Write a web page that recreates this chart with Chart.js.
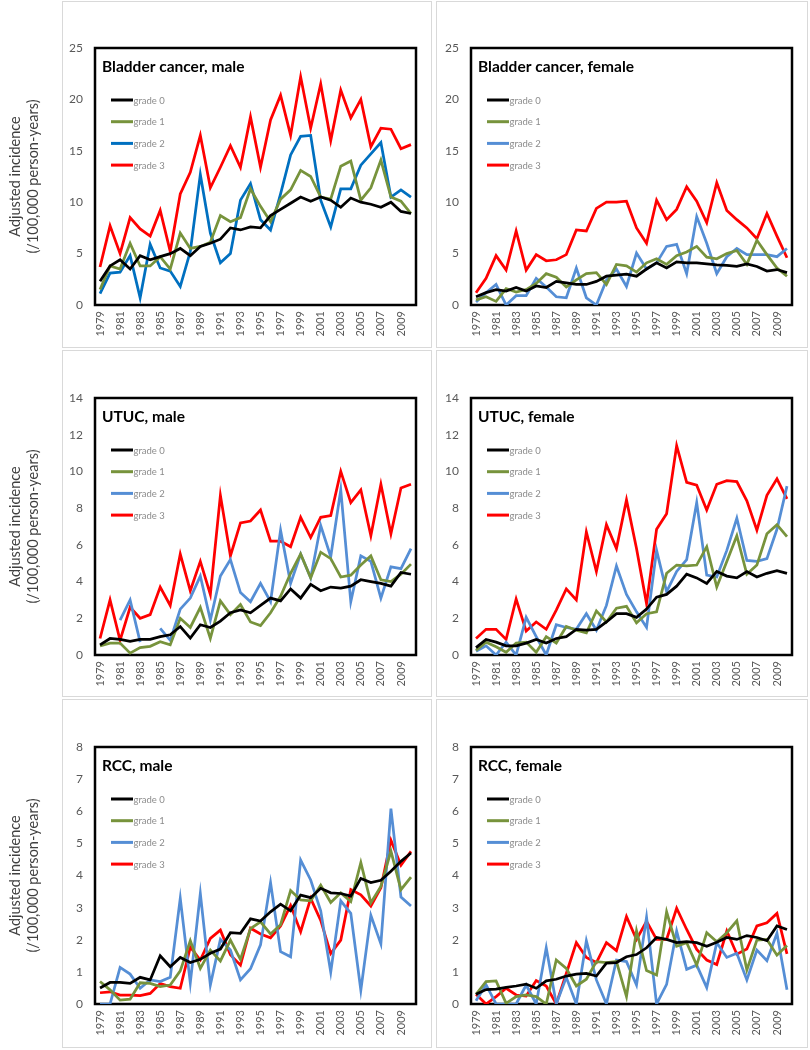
<!DOCTYPE html>
<html>
<head>
<meta charset="utf-8">
<script src="https://cdn.jsdelivr.net/npm/chart.js@4.4.3/dist/chart.umd.min.js"></script>
<style>
  body { margin: 0; background: #fff; width: 810px; height: 1050px; position: relative; overflow: hidden; }
  .panel { position: absolute; }
  .cell { position: absolute; border: 1px solid #d9d9d9; box-sizing: border-box; pointer-events: none; }
</style>
</head>
<body>
<script>
// ─────────────────────────────────────────────────────────────
// Data (adjusted incidence /100,000 person-years, 1979–2010)
// ─────────────────────────────────────────────────────────────

const years = ['1979', '1980', '1981', '1982', '1983', '1984', '1985', '1986', '1987', '1988',
  '1989', '1990', '1991', '1992', '1993', '1994', '1995', '1996', '1997', '1998',
  '1999', '2000', '2001', '2002', '2003', '2004', '2005', '2006', '2007', '2008',
  '2009', '2010'];

const gradeLabels = ['grade 0', 'grade 1', 'grade 2', 'grade 3'];

const bladderMaleG0 = [2.3, 3.8, 4.4, 3.5, 4.8, 4.4, 4.7, 5.0, 5.5, 4.8, 5.7, 6.0, 6.4, 7.5, 7.3, 7.6, 7.5, 8.7, 9.3, 9.9, 10.5, 10.1, 10.5, 10.2, 9.5, 10.4, 10.0, 9.8, 9.5, 10.0, 9.1, 8.9];
const bladderMaleG1 = [1.5, 3.8, 3.5, 6.0, 3.8, 3.8, 4.7, 3.5, 7.0, 5.5, 5.7, 6.1, 8.7, 8.1, 8.5, 11.3, 9.6, 8.1, 10.3, 11.2, 13.1, 12.5, 10.5, 10.3, 13.5, 14.0, 10.2, 11.4, 14.1, 10.5, 10.1, 8.9];
const bladderMaleG2 = [1.1, 3.1, 3.2, 4.8, 0.7, 5.9, 3.6, 3.3, 1.8, 5.2, 12.7, 7.0, 4.1, 5.0, 10.2, 11.8, 8.3, 7.3, 10.8, 14.6, 16.4, 16.5, 10.2, 7.6, 11.3, 11.3, 13.6, 14.7, 15.8, 10.5, 11.2, 10.5];
const bladderMaleG3 = [3.7, 7.7, 5.0, 8.5, 7.4, 6.7, 9.2, 5.2, 10.8, 12.9, 16.5, 11.4, 13.4, 15.5, 13.4, 18.3, 13.4, 18.0, 20.4, 16.5, 22.2, 17.2, 21.5, 16.0, 20.9, 18.2, 20.0, 15.4, 17.2, 17.1, 15.2, 15.6];

const bladderFemaleG0 = [0.8, 1.2, 1.5, 1.35, 1.7, 1.35, 1.85, 1.7, 2.3, 2.15, 2.0, 2.0, 2.3, 2.8, 2.9, 3.0, 2.8, 3.5, 4.1, 3.6, 4.2, 4.1, 4.1, 4.0, 3.9, 3.85, 3.75, 4.0, 3.75, 3.3, 3.45, 3.15];
const bladderFemaleG1 = [0.5, 0.8, 0.35, 1.6, 1.25, 1.5, 2.1, 3.05, 2.7, 1.75, 2.45, 3.05, 3.15, 2.0, 3.95, 3.8, 3.2, 4.1, 4.5, 3.95, 4.8, 5.15, 5.7, 4.65, 4.5, 5.0, 5.3, 3.95, 6.3, 4.9, 3.6, 2.8];
const bladderFemaleG2 = [0.3, 1.2, 2.0, 0.0, 0.9, 0.9, 2.6, 1.75, 0.8, 0.7, 3.6, 0.7, 0.0, 2.4, 3.5, 1.8, 5.05, 3.5, 4.1, 5.7, 5.9, 3.05, 8.6, 6.0, 3.05, 4.7, 5.5, 4.9, 4.9, 4.9, 4.7, 5.5];
const bladderFemaleG3 = [1.2, 2.6, 4.8, 3.4, 7.2, 3.4, 4.9, 4.3, 4.4, 4.9, 7.3, 7.2, 9.4, 10.0, 10.0, 10.1, 7.5, 6.0, 10.2, 8.3, 9.3, 11.5, 10.1, 8.0, 11.9, 9.2, 8.3, 7.5, 6.45, 8.9, 6.7, 4.6];

const utucMaleG0 = [0.55, 0.9, 0.85, 0.75, 0.85, 0.85, 1.0, 1.1, 1.55, 0.92, 1.65, 1.5, 1.85, 2.3, 2.45, 2.3, 2.7, 3.1, 2.95, 3.6, 3.1, 3.85, 3.5, 3.7, 3.65, 3.75, 4.1, 4.0, 3.9, 3.75, 4.5, 4.4];
const utucMaleG1 = [0.5, 0.65, 0.65, 0.1, 0.4, 0.47, 0.72, 0.55, 2.0, 1.5, 2.6, 0.9, 2.95, 2.2, 2.75, 1.8, 1.6, 2.3, 3.2, 4.45, 5.5, 4.2, 5.6, 5.25, 4.25, 4.35, 4.9, 5.4, 4.1, 4.0, 4.4, 4.95];
const utucMaleG2 = [null, null, 1.9, 3.0, 0.7, null, 1.45, 0.8, 2.5, 3.1, 4.3, 1.9, 4.3, 5.2, 3.4, 2.9, 3.9, 2.9, 6.8, 3.9, 5.5, 4.2, 7.05, 5.35, 9.0, 2.9, 5.4, 5.1, 3.1, 4.8, 4.7, 5.8];
const utucMaleG3 = [0.9, 3.0, 0.8, 2.6, 2.0, 2.2, 3.7, 2.7, 5.5, 3.5, 5.1, 3.3, 8.7, 5.4, 7.2, 7.3, 7.9, 6.2, 6.2, 5.9, 7.5, 6.4, 7.5, 7.6, 10.0, 8.3, 9.0, 6.5, 9.3, 6.6, 9.1, 9.3];

const utucFemaleG0 = [0.4, 0.85, 0.7, 0.5, 0.5, 0.65, 0.85, 0.65, 0.9, 1.0, 1.4, 1.35, 1.4, 1.8, 2.25, 2.25, 2.05, 2.5, 3.15, 3.3, 3.75, 4.4, 4.2, 3.9, 4.55, 4.3, 4.2, 4.55, 4.25, 4.45, 4.6, 4.45];
const utucFemaleG1 = [0.25, 0.7, 0.45, 0.15, 0.65, 0.7, 0.15, 1.0, 0.65, 1.55, 1.35, 1.2, 2.4, 1.8, 2.55, 2.65, 1.75, 2.25, 2.35, 4.45, 4.9, 4.85, 4.9, 5.9, 3.7, 5.1, 6.5, 4.4, 4.9, 6.6, 7.1, 6.45];
const utucFemaleG2 = [0.2, 0.5, 0.0, 0.7, 0.0, 2.05, 1.0, 0.0, 1.65, 1.5, 1.4, 2.25, 1.35, 2.7, 4.85, 3.3, 2.35, 1.5, 5.7, 3.45, 4.55, 5.2, 8.3, 4.35, 4.25, 5.7, 7.45, 5.15, 5.1, 5.25, 6.85, 9.2];
const utucFemaleG3 = [0.9, 1.4, 1.4, 0.85, 3.05, 1.3, 1.8, 1.4, 2.45, 3.6, 3.0, 6.7, 4.55, 7.1, 5.8, 8.45, 5.8, 2.8, 6.85, 7.7, 11.4, 9.4, 9.25, 7.9, 9.3, 9.5, 9.45, 8.4, 6.8, 8.7, 9.6, 8.5];

const rccMaleG0 = [0.5, 0.67, 0.67, 0.64, 0.83, 0.75, 1.5, 1.16, 1.45, 1.29, 1.39, 1.58, 1.71, 2.22, 2.2, 2.65, 2.58, 2.87, 3.11, 2.9, 3.39, 3.31, 3.6, 3.46, 3.44, 3.36, 3.91, 3.78, 3.85, 4.13, 4.44, 4.7];
const rccMaleG1 = [0.7, 0.44, 0.12, 0.15, 0.66, 0.64, 0.54, 0.59, 1.03, 1.97, 1.11, 1.68, 1.34, 1.99, 1.39, 2.35, 2.56, 2.18, 2.47, 3.53, 3.24, 3.21, 3.7, 3.16, 3.46, 3.19, 4.4, 3.15, 3.66, 4.76, 3.56, 3.95];
const rccMaleG2 = [0.0, 0.0, 1.14, 0.93, 0.49, 0.75, 0.7, 0.83, 3.29, 0.66, 3.44, 0.59, 2.01, 1.68, 0.75, 1.1, 1.84, 3.78, 1.63, 1.47, 4.48, 3.86, 2.9, 0.99, 3.21, 2.82, 0.43, 2.76, 1.87, 6.08, 3.33, 3.05];
const rccMaleG3 = [0.35, 0.38, 0.28, 0.28, 0.26, 0.33, 0.64, 0.54, 0.49, 1.77, 1.37, 2.04, 2.3, 1.53, 1.21, 2.36, 2.18, 2.06, 2.43, 3.07, 2.25, 3.29, 2.6, 1.57, 1.99, 3.56, 3.4, 3.05, 3.62, 5.1, 4.32, 4.75];

const rccFemaleG0 = [0.3, 0.45, 0.46, 0.52, 0.56, 0.62, 0.49, 0.72, 0.77, 0.87, 0.93, 0.95, 0.87, 1.27, 1.29, 1.47, 1.54, 1.75, 2.07, 2.01, 1.91, 1.94, 1.91, 1.8, 1.92, 2.07, 2.01, 2.13, 2.07, 1.97, 2.43, 2.32];
const rccFemaleG1 = [0.3, 0.7, 0.72, 0.02, 0.23, 0.28, 0.23, 0.0, 1.37, 1.11, 0.56, 0.77, 1.32, 1.29, 1.32, 0.23, 2.28, 1.04, 0.9, 2.87, 1.8, 1.91, 1.21, 2.22, 1.94, 2.22, 2.59, 1.06, 1.99, 2.01, 1.52, 1.82];
const rccFemaleG2 = [0.1, 0.6, 0.0, 0.0, 0.0, 0.59, 0.0, 1.75, 0.0, 0.83, 0.0, 1.97, 0.75, 0.0, 1.37, 1.32, 0.59, 2.7, 0.0, 0.61, 2.27, 1.08, 1.21, 0.51, 1.91, 1.45, 1.58, 0.75, 1.68, 1.35, 2.2, 0.44];
const rccFemaleG3 = [0.3, 0.0, 0.23, 0.49, 0.28, 0.25, 0.73, 0.56, 0.0, 0.95, 1.91, 1.45, 1.29, 1.91, 1.66, 2.72, 2.01, 2.57, 2.01, 2.01, 2.98, 2.32, 1.7, 1.37, 1.23, 2.27, 1.55, 1.71, 2.43, 2.53, 2.82, 1.56];

// y-axis ranges per row
const bladderTicks = { max: 25, step: 5 };
const utucTicks    = { max: 14, step: 2 };
const rccTicks     = { max: 8,  step: 1 };

const yTitle = ['Adjusted incidence', '(/100,000 person-years)'];

// ─────────────────────────────────────────────────────────────
// Look & layout
// ─────────────────────────────────────────────────────────────

const BLACK = '#000000';
const GREEN = '#77933C';
const BLUE_DARK = '#0070C0';
const BLUE = '#558ED5';
const RED = '#FF0000';

const FONT = "Lato, 'Open Sans', sans-serif";
Chart.defaults.font.family = FONT;

const ROW_TOP = [0, 350, 699];
const COL = [
  { left: 0,   width: 432, yWidth: 95 },
  { left: 436, width: 372, yWidth: 35 },
];
const CANVAS_H = 348;

// plot frame, title and in-plot legend (Excel style)
const panelDecor = {
  id: 'panelDecor',
  beforeDatasetsDraw(chart) {
    const { ctx, chartArea: a } = chart;
    ctx.save();
    ctx.lineWidth = 2.5;
    ctx.strokeStyle = '#000';
    ctx.strokeRect(a.left, a.top, a.right - a.left, a.bottom - a.top);
    ctx.restore();
  },
  afterDatasetsDraw(chart, args, opts) {
    const { ctx, chartArea: a } = chart;
    ctx.save();
    ctx.textBaseline = 'middle';
    ctx.textAlign = 'left';
    ctx.fillStyle = '#000';
    ctx.font = `bold 15.5px ${FONT}`;
    ctx.fillText(opts.title, a.left + 7, a.top + 19);

    ctx.font = `9.5px ${FONT}`;
    chart.data.datasets.forEach((ds, i) => {
      const y = a.top + 52 + i * 21.7;
      ctx.strokeStyle = ds.borderColor;
      ctx.lineWidth = 3;
      ctx.beginPath();
      ctx.moveTo(a.left + 16, y);
      ctx.lineTo(a.left + 38, y);
      ctx.stroke();
      ctx.fillStyle = '#8c8c8c';
      ctx.fillText(ds.label, a.left + 38.5, y + 0.5);
    });
    ctx.restore();
  },
};

function makePanel({ title, series, blue, ticks, row, col }) {
  const c = COL[col];
  const wrap = document.createElement('div');
  wrap.className = 'panel';
  wrap.style.left = c.left + 'px';
  wrap.style.top = ROW_TOP[row] + 'px';
  const canvas = document.createElement('canvas');
  canvas.width = c.width;
  canvas.height = CANVAS_H;
  wrap.appendChild(canvas);
  document.body.appendChild(wrap);

  const colors = [BLACK, GREEN, blue, RED];
  const datasets = series.map((data, i) => ({
    label: gradeLabels[i],
    data,
    borderColor: colors[i],
    backgroundColor: colors[i],
    borderWidth: 2.75,
    pointRadius: 0,
    tension: 0,
    spanGaps: false,
    fill: false,
  }));

  return new Chart(canvas.getContext('2d'), {
    type: 'line',
    data: { labels: years, datasets },
    plugins: [panelDecor],
    options: {
      responsive: false,
      animation: false,
      devicePixelRatio: 1,
      layout: { padding: { top: 48, right: 16, bottom: 0, left: 0 } },
      plugins: {
        legend: { display: false },
        tooltip: { enabled: false },
        panelDecor: { title },
      },
      scales: {
        x: {
          offset: true,
          grid: { display: false, drawTicks: false },
          border: { display: false },
          ticks: {
            autoSkip: false,
            minRotation: 90,
            maxRotation: 90,
            padding: 6,
            color: '#595959',
            font: { size: 11 },
            callback: (v, i) => (i % 2 === 0 ? years[i] : ''),
          },
          afterFit: s => { s.height = 43; },
        },
        y: {
          min: 0,
          max: ticks.max,
          grid: { display: false, drawTicks: false },
          border: { display: false },
          ticks: { stepSize: ticks.step, padding: 12, color: '#595959', font: { size: 12 } },
          title: {
            display: col === 0,
            text: yTitle,
            color: '#404040',
            font: { size: 14.5 },
            padding: { top: 7, bottom: 0 },
          },
          afterFit: s => { s.width = c.yWidth; },
        },
      },
    },
  });
}

// cell frames
[[62, 1, 370, 347], [436, 1, 372, 347],
 [62, 350, 370, 347], [436, 350, 372, 347],
 [62, 699, 370, 349], [436, 699, 372, 349]].forEach(([l, t, w, h]) => {
  const d = document.createElement('div');
  d.className = 'cell';
  Object.assign(d.style, { left: l + 'px', top: t + 'px', width: w + 'px', height: h + 'px' });
  document.body.appendChild(d);
});

makePanel({ title: 'Bladder cancer, male', series: [bladderMaleG0, bladderMaleG1, bladderMaleG2, bladderMaleG3], blue: BLUE_DARK, ticks: bladderTicks, row: 0, col: 0 });
makePanel({ title: 'Bladder cancer, female', series: [bladderFemaleG0, bladderFemaleG1, bladderFemaleG2, bladderFemaleG3], blue: BLUE, ticks: bladderTicks, row: 0, col: 1 });
makePanel({ title: 'UTUC, male', series: [utucMaleG0, utucMaleG1, utucMaleG2, utucMaleG3], blue: BLUE, ticks: utucTicks, row: 1, col: 0 });
makePanel({ title: 'UTUC, female', series: [utucFemaleG0, utucFemaleG1, utucFemaleG2, utucFemaleG3], blue: BLUE, ticks: utucTicks, row: 1, col: 1 });
makePanel({ title: 'RCC, male', series: [rccMaleG0, rccMaleG1, rccMaleG2, rccMaleG3], blue: BLUE, ticks: rccTicks, row: 2, col: 0 });
makePanel({ title: 'RCC, female', series: [rccFemaleG0, rccFemaleG1, rccFemaleG2, rccFemaleG3], blue: BLUE, ticks: rccTicks, row: 2, col: 1 });
</script>
</body>
</html>
